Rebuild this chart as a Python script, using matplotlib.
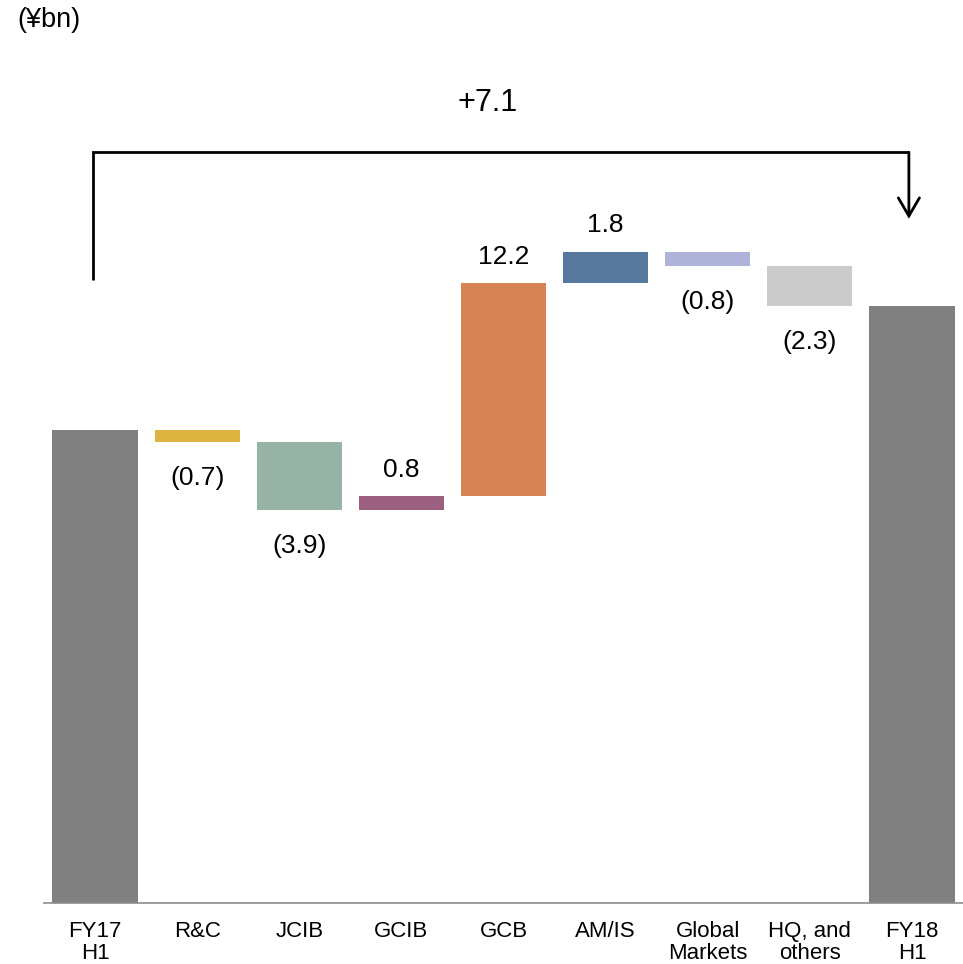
#!/usr/bin/env python3

import matplotlib
matplotlib.use('Agg')
import matplotlib.pyplot as plt
import numpy as np

plt.rcParams['font.family'] = ['Liberation Sans', 'DejaVu Sans']

# first-half results by segment, (¥bn)
categories = ['FY17\nH1', 'R&C', 'JCIB', 'GCIB', 'GCB', 'AM/IS',
              'Global\nMarkets', 'HQ, and\nothers', 'FY18\nH1']
start_value = 27.1
changes = [-0.7, -3.9, 0.8, 12.2, 1.8, -0.8, -2.3]
colors = ['#808080', '#DDB43F', '#97B3A6', '#9B6080', '#D88353',
          '#55789C', '#B0B3D9', '#CBCBCB', '#808080']


def fmt(v):
    return f'({abs(v):.1f})' if v < 0 else f'{v:.1f}'


def main():
    end_value = start_value + sum(changes)
    total_change = end_value - start_value

    fig = plt.figure(figsize=(9.63, 9.64), dpi=100)
    ax = fig.add_axes([0.0457, 0.0633, 0.9543, 0.8330])

    # floating bars: bottom is the running total before each change
    running = np.cumsum([start_value] + changes)
    bottoms = [0] + [min(running[i], running[i + 1]) for i in range(len(changes))] + [0]
    heights = [start_value] + [abs(c) for c in changes] + [end_value]
    x = np.arange(len(categories))
    ax.bar(x, heights, bottom=bottoms, width=0.835, color=colors, zorder=2)

    for i, c in enumerate(changes, start=1):
        if c < 0:
            ax.annotate(fmt(c), (i, bottoms[i]), xytext=(0, -26), textcoords='offset points',
                        ha='center', va='center', fontsize=19)
        else:
            ax.annotate(fmt(c), (i, bottoms[i] + heights[i]), xytext=(0, 19),
                        textcoords='offset points', ha='center', va='center', fontsize=19)

    # bracket from the first bar to the last one with the total change
    top_y = max(running) + 5.7
    left_y = start_value + 8.6
    tip_y = end_value + 5.0
    lx, rx = -0.02, 7.97
    ax.plot([lx, lx, rx], [left_y, top_y, top_y], color='black', lw=2,
            solid_joinstyle='miter', solid_capstyle='butt', clip_on=False)
    ax.annotate('', xy=(rx, tip_y), xytext=(rx, top_y),
                arrowprops=dict(arrowstyle='->, head_length=1.3, head_width=0.76',
                                lw=2, color='black', shrinkA=0, shrinkB=0,
                                mutation_scale=10, joinstyle='miter'),
                annotation_clip=False)
    ax.text(3.84, top_y + 2.8, f'+{total_change:.1f}', ha='center', va='center',
            fontsize=22)

    ax.set_xlim(-0.5, len(categories) - 0.5)
    ax.set_ylim(0, 46)
    ax.set_xticks(x)
    ax.set_xticklabels(categories, fontsize=16, linespacing=1.05)
    ax.tick_params(axis='x', length=0, pad=13)
    ax.set_yticks([])
    for side in ['left', 'right', 'top']:
        ax.spines[side].set_visible(False)
    ax.spines['bottom'].set_color('#8C8C8C')
    ax.spines['bottom'].set_linewidth(1.2)

    fig.text(17 / 963, 1 - 20 / 964, '(¥bn)', ha='left', va='center', fontsize=19.5)

    fig.savefig('out.png', dpi=100)


if __name__ == '__main__':
    main()
